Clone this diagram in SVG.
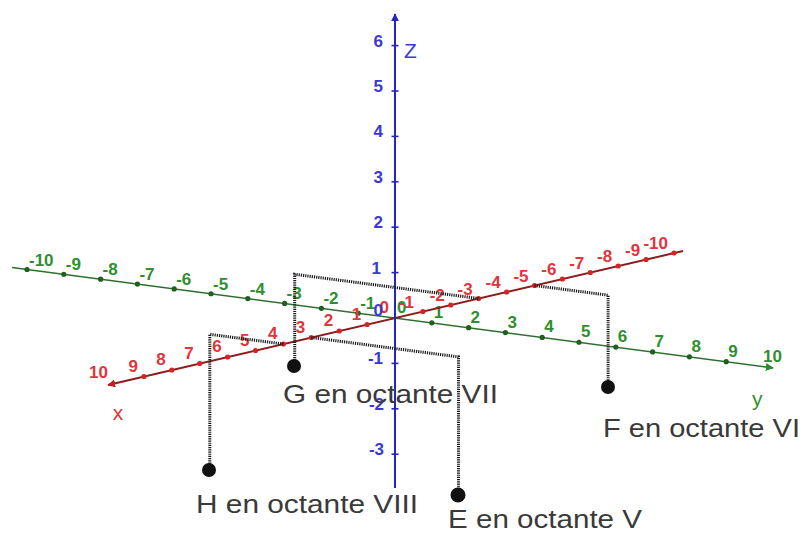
<svg xmlns="http://www.w3.org/2000/svg" width="804" height="540" viewBox="0 0 804 540">
<defs>
<style>
.lbl{font-family:"Liberation Sans",Arial,sans-serif;font-size:17px;font-weight:bold}
.rl{fill:#e2343c;text-anchor:end}
.gl{fill:#2f8f2f}
.bl{fill:#3a3ad2;text-anchor:end}
.ax{fill:none}
.rax{stroke:#8e1c1c;stroke-width:2}
.gax{stroke:#2f6f2f;stroke-width:1.6}
.bax{stroke:#2424c8;stroke-width:2}
.rd{fill:#d42424}
.gd{fill:#1f5f1f}
.bt{stroke:#2424c8;stroke-width:1.6}
.dot{fill:none;stroke:#1a1a1a;stroke-width:3;stroke-dasharray:1.2 1}
.pt{fill:#111}
.ptl{font-family:"Liberation Sans",Arial,sans-serif;font-size:25px;fill:#3a3a3a}
.axn{font-family:"Liberation Sans",Arial,sans-serif;font-size:21px}
</style>
<marker id="ar" viewBox="0 0 10 10" refX="9" refY="5" markerWidth="8" markerHeight="8" markerUnits="userSpaceOnUse" orient="auto"><path d="M0,0 L10,5 L0,10 z" fill="#c41f1f"/></marker>
<marker id="ag" viewBox="0 0 10 10" refX="9" refY="5" markerWidth="8" markerHeight="8" markerUnits="userSpaceOnUse" orient="auto"><path d="M0,0 L10,5 L0,10 z" fill="#2f8a2f"/></marker>
<marker id="ab" viewBox="0 0 10 10" refX="9" refY="5" markerWidth="8" markerHeight="8" markerUnits="userSpaceOnUse" orient="auto"><path d="M0,0 L10,5 L0,10 z" fill="#2424c8"/></marker>
</defs>
<rect width="804" height="540" fill="#ffffff"/>

<g id="axis-y">
<line class="ax gax" x1="12" y1="267.5" x2="773" y2="368" marker-end="url(#ag)"/>
<g class="gd">
<circle cx="27" cy="269.5" r="2.6"/><circle cx="63.8" cy="274.35" r="2.6"/><circle cx="100.6" cy="279.2" r="2.6"/><circle cx="137.4" cy="284.05" r="2.6"/><circle cx="174.2" cy="288.9" r="2.6"/><circle cx="211" cy="293.75" r="2.6"/><circle cx="247.8" cy="298.6" r="2.6"/><circle cx="284.6" cy="303.45" r="2.6"/><circle cx="321.4" cy="308.3" r="2.6"/><circle cx="358.2" cy="313.15" r="2.6"/><circle cx="431.8" cy="322.85" r="2.6"/><circle cx="468.6" cy="327.7" r="2.6"/><circle cx="505.4" cy="332.55" r="2.6"/><circle cx="542.2" cy="337.4" r="2.6"/><circle cx="579" cy="342.25" r="2.6"/><circle cx="615.8" cy="347.1" r="2.6"/><circle cx="652.6" cy="351.95" r="2.6"/><circle cx="689.4" cy="356.8" r="2.6"/><circle cx="726.2" cy="361.65" r="2.6"/>
</g>
<g class="lbl gl">
<text x="29" y="265.5">-10</text><text x="65.8" y="270.3">-9</text><text x="102.6" y="275.2">-8</text><text x="139.4" y="280">-7</text><text x="176.2" y="284.9">-6</text><text x="213" y="289.7">-5</text><text x="249.8" y="294.6">-4</text><text x="286.6" y="299.4">-3</text><text x="323.4" y="304.3">-2</text><text x="360.2" y="309.1">-1</text><text x="397" y="313">0</text><text x="433.8" y="317.8">1</text><text x="470.6" y="322.7">2</text><text x="507.4" y="327.5">3</text><text x="544.2" y="332.4">4</text><text x="581" y="337.2">5</text><text x="617.8" y="342.1">6</text><text x="654.6" y="346.9">7</text><text x="691.4" y="351.8">8</text><text x="728.2" y="356.6">9</text><text x="763" y="361.5">10</text>
</g>
<text class="axn" x="752" y="406" fill="#2f8f2f">y</text>
</g>

<g id="axis-x">
<line class="ax rax" x1="683" y1="251" x2="108" y2="385" marker-end="url(#ar)"/>
<g class="rd">
<circle cx="143.9" cy="376.5" r="2.6"/><circle cx="171.8" cy="370" r="2.6"/><circle cx="199.7" cy="363.5" r="2.6"/><circle cx="227.6" cy="357" r="2.6"/><circle cx="255.5" cy="350.5" r="2.6"/><circle cx="283.4" cy="344" r="2.6"/><circle cx="311.3" cy="337.5" r="2.6"/><circle cx="339.2" cy="331" r="2.6"/><circle cx="367.1" cy="324.5" r="2.6"/><circle cx="422.9" cy="311.5" r="2.6"/><circle cx="450.8" cy="305" r="2.6"/><circle cx="478.7" cy="298.5" r="2.6"/><circle cx="506.6" cy="292" r="2.6"/><circle cx="534.5" cy="285.5" r="2.6"/><circle cx="562.4" cy="279" r="2.6"/><circle cx="590.3" cy="272.5" r="2.6"/><circle cx="618.2" cy="266" r="2.6"/><circle cx="646.1" cy="259.5" r="2.6"/><circle cx="674" cy="253" r="2.6"/>
</g>
<g class="lbl rl">
<text x="108" y="378">10</text><text x="137.9" y="371.5">9</text><text x="165.8" y="365">8</text><text x="193.7" y="358.5">7</text><text x="221.6" y="352">6</text><text x="249.5" y="345.5">5</text><text x="277.4" y="339">4</text><text x="305.3" y="332.5">3</text><text x="333.2" y="326">2</text><text x="361.1" y="319.5">1</text><text x="389" y="313">0</text><text x="414" y="307.5">-1</text><text x="444.8" y="301">-2</text><text x="472.7" y="294.5">-3</text><text x="500.6" y="288">-4</text><text x="528.5" y="281.5">-5</text><text x="556.4" y="275">-6</text><text x="584.3" y="268.5">-7</text><text x="612.2" y="262">-8</text><text x="640.1" y="255.5">-9</text><text x="668" y="249">-10</text>
</g>
<text class="axn" x="118" y="420" fill="#e2343c" text-anchor="middle">x</text>
</g>

<g id="axis-z">
<line class="ax bax" x1="395" y1="488" x2="395" y2="14" marker-end="url(#ab)"/>
<g class="bt">
<line x1="391.5" y1="45.6" x2="398.5" y2="45.6"/><line x1="391.5" y1="91" x2="398.5" y2="91"/><line x1="391.5" y1="136.4" x2="398.5" y2="136.4"/><line x1="391.5" y1="181.8" x2="398.5" y2="181.8"/><line x1="391.5" y1="227.2" x2="398.5" y2="227.2"/><line x1="391.5" y1="272.6" x2="398.5" y2="272.6"/><line x1="391.5" y1="363.4" x2="398.5" y2="363.4"/><line x1="391.5" y1="408.8" x2="398.5" y2="408.8"/><line x1="391.5" y1="454.2" x2="398.5" y2="454.2"/>
</g>
<g class="lbl bl">
<text x="383" y="46.6">6</text><text x="383" y="92">5</text><text x="383" y="137.4">4</text><text x="383" y="182.8">3</text><text x="383" y="228.2">2</text><text x="381" y="273.6">1</text><text x="383" y="316">0</text><text x="383" y="364.4">-1</text><text x="384" y="409.8">-2</text><text x="384" y="455.2">-3</text>
</g>
<text class="axn" x="404" y="58" fill="#3a3ad2">Z</text>
</g>

<g id="connectors">
<path class="dot" d="M478.7 298.5 L294.7 274.3 L294.7 365"/>
<path class="dot" d="M534.5 285.5 L608.1 295.2 L608.1 386"/>
<path class="dot" d="M311.3 337.5 L458.5 356.9 L458.5 495"/>
<path class="dot" d="M283.4 344 L209.8 334.3 L209.8 470"/>
</g>

<g id="G">
<circle class="pt" cx="294" cy="366" r="7"/>
<text class="ptl" x="283" y="403" textLength="215" lengthAdjust="spacingAndGlyphs">G en octante VII</text>
</g>
<g id="F">
<circle class="pt" cx="608" cy="387" r="7"/>
<text class="ptl" x="603" y="437" textLength="197" lengthAdjust="spacingAndGlyphs">F en octante VI</text>
</g>
<g id="E">
<circle class="pt" cx="458" cy="495" r="7.5"/>
<text class="ptl" x="448" y="528" textLength="194" lengthAdjust="spacingAndGlyphs">E en octante V</text>
</g>
<g id="H">
<circle class="pt" cx="209" cy="470" r="7"/>
<text class="ptl" x="196" y="513" textLength="222" lengthAdjust="spacingAndGlyphs">H en octante VIII</text>
</g>
</svg>
